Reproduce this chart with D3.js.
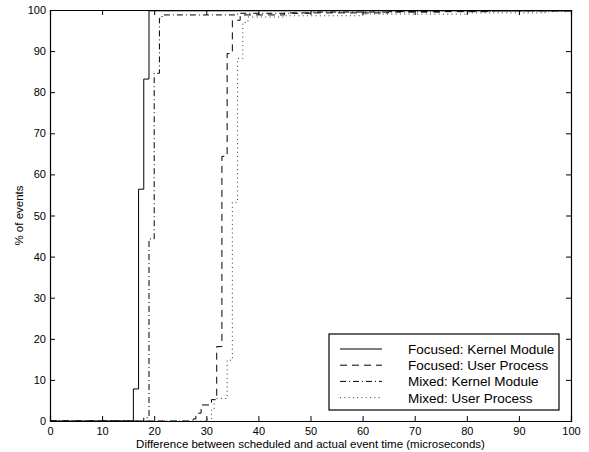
<!DOCTYPE html>
<html><head><meta charset="utf-8">
<script src="https://cdn.jsdelivr.net/npm/d3@7"></script>
<style>body{margin:0;background:#fff}svg{display:block}text{font-family:"Liberation Sans",Arial,sans-serif}</style>
</head><body><svg id="c" width="589" height="452"></svg>
<script>
const xTicks = [0,10,20,30,40,50,60,70,80,90,100];
const yTicks = [0,10,20,30,40,50,60,70,80,90,100];
const seriesNames = ["Focused: Kernel Module","Focused: User Process","Mixed: Kernel Module","Mixed: User Process"];
// Focused: Kernel Module (solid)
const fkX = [0, 16, 17, 18, 19, 100];
const fkY = [0, 7.8, 56.4, 83.2, 99.8, 100];
// Focused: User Process (dashed)
const fuX = [0, 27.5, 28, 29, 31, 32, 33, 34, 35, 36.5, 45, 65, 85, 100];
const fuY = [0, 0.5, 1.9, 3.9, 5.2, 18.1, 64.4, 89.4, 97.5, 98.8, 99.3, 99.6, 99.8, 100];
// Mixed: Kernel Module (dash-dot)
const mkX = [0, 18, 19, 20, 21, 21.5, 36, 50, 75, 100];
const mkY = [0, 0.8, 44.3, 84.6, 98.0, 98.8, 99.2, 99.5, 99.8, 100];
// Mixed: User Process (dotted)
const muX = [0, 30, 31, 31.5, 34, 35, 36, 37, 38, 45, 60, 80, 95, 100];
const muY = [0, 0.5, 2.7, 5.5, 14.8, 53.2, 88.2, 97.0, 98.3, 98.6, 99.0, 99.3, 99.6, 100];

const svg = d3.select("#c");
const L=50, R=571, T=10, B=421;
const x = d3.scaleLinear().domain([0,100]).range([L,R]);
const y = d3.scaleLinear().domain([0,100]).range([B,T]);

const styles = [
  {dash:null, color:"#000"},
  {dash:"7,5", color:"#000"},
  {dash:"6,3,1,3", color:"#000"},
  {dash:"1,3.3", color:"#333"}
];
const data = [[fkX,fkY],[fuX,fuY],[mkX,mkY],[muX,muY]].map(([xs,ys])=>xs.map((v,i)=>[v,ys[i]]));

const line = d3.line().x(d=>x(d[0])).y(d=>y(d[1])).curve(d3.curveStepAfter);
const g = svg.append("g");
g.append("defs").append("clipPath").attr("id","clip").append("rect").attr("x",L).attr("y",T).attr("width",R-L).attr("height",B-T);
data.forEach((d,i)=>{
  g.append("path").attr("d",line(d)).attr("fill","none").attr("stroke",styles[i].color)
   .attr("stroke-width",1).attr("stroke-dasharray",styles[i].dash).attr("clip-path","url(#clip)");
});

// axes (ticks inward on all four sides)
const ax = svg.append("g").attr("transform",`translate(0,${B})`).call(d3.axisBottom(x).tickValues(xTicks).tickSize(-5).tickPadding(3));
const ay = svg.append("g").attr("transform",`translate(${L},0)`).call(d3.axisLeft(y).tickValues(yTicks).tickSize(-5).tickPadding(4));
const at = svg.append("g").attr("transform",`translate(0,${T})`).call(d3.axisTop(x).tickValues(xTicks).tickSize(-5).tickFormat(""));
const ar = svg.append("g").attr("transform",`translate(${R},0)`).call(d3.axisRight(y).tickValues(yTicks).tickSize(-5).tickFormat(""));
[ax,ay,at,ar].forEach(a=>{a.select(".domain").attr("stroke","#000").attr("stroke-width",1.2);a.selectAll(".tick line").attr("stroke","#000");a.selectAll("text").attr("font-size",11).attr("fill","#000");});
ax.selectAll("text").attr("dy",null).attr("y",14);

svg.append("text").attr("x",(L+R)/2).attr("y",448).attr("text-anchor","middle").attr("font-size",11.5).text("Difference between scheduled and actual event time (microseconds)");
svg.append("text").attr("transform",`translate(23,${(T+B)/2}) rotate(-90)`).attr("text-anchor","middle").attr("font-size",11.5).text("% of events");

// legend
const lg = svg.append("g");
lg.append("rect").attr("x",329).attr("y",334).attr("width",230).attr("height",76).attr("fill","#fff").attr("stroke","#000").attr("stroke-width",1.2);
seriesNames.forEach((n,i)=>{
  const yy = 349 + i*16.2;
  lg.append("line").attr("x1",340).attr("x2",382).attr("y1",yy).attr("y2",yy).attr("stroke",styles[i].color).attr("stroke-dasharray",styles[i].dash);
  lg.append("text").attr("x",408).attr("y",yy+5).attr("font-size",13.5).text(n);
});
</script></body></html>
